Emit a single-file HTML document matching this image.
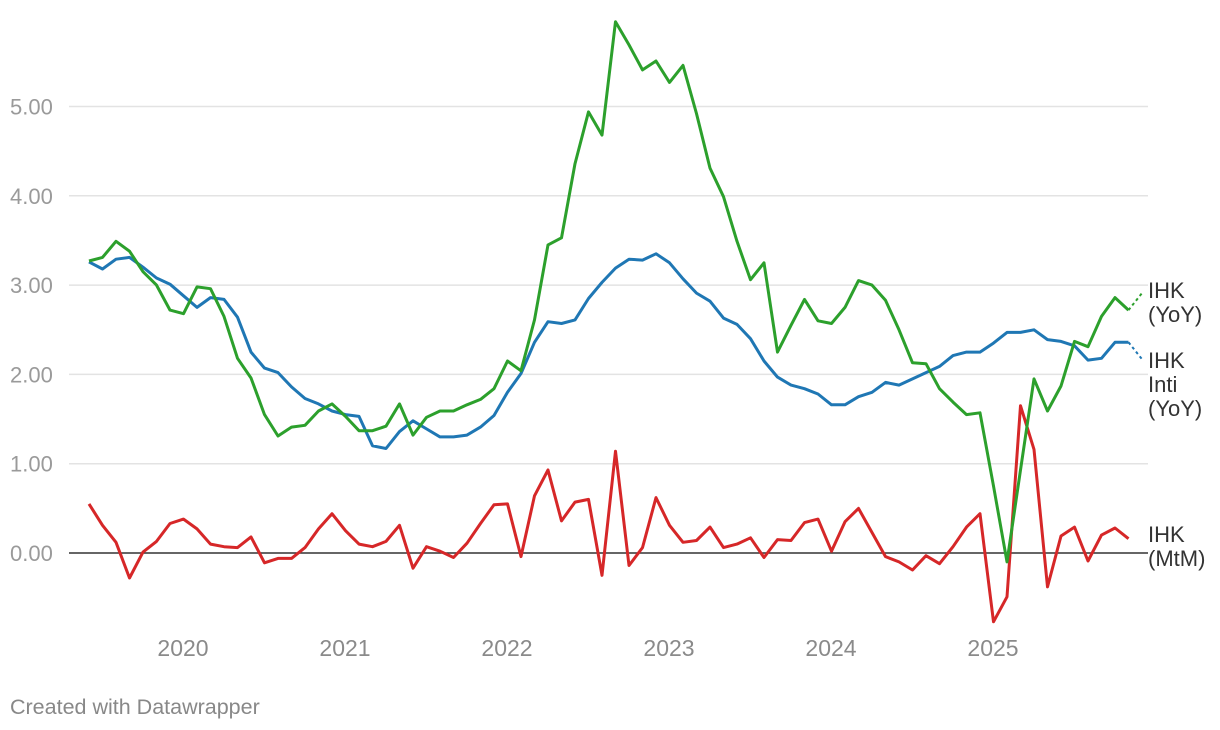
<!DOCTYPE html>
<html><head><meta charset="utf-8"><style>
body{margin:0;background:#fff;font-family:"Liberation Sans",Arial,sans-serif}
svg{display:block}
</style></head><body>
<svg id="chart" width="1220" height="730" viewBox="0 0 1220 730" xmlns="http://www.w3.org/2000/svg">
<g id="grid"></g>
<g id="yticks"></g>
<g id="xticks"></g>
<g id="series"></g>
<g id="labels"></g>
<text x="10" y="714" font-size="21.5" fill="#888">Created with Datawrapper</text>
</svg>
<script>
// months from Jun 2019 (index 0) to Nov 2025 (index 77); index 78 = dotted projection Dec 2025
const yTicks=[0,1,2,3,4,5];
const yTickLabels=["0.00","1.00","2.00","3.00","4.00","5.00"];
const yearLabels=["2020","2021","2022","2023","2024","2025"];
const yearIndex=[7,19,31,43,55,67];
const ihkYoY=[3.27,3.31,3.49,3.38,3.15,3.0,2.72,2.68,2.98,2.96,2.65,2.18,1.96,1.55,1.31,1.41,1.43,1.59,1.67,1.53,1.37,1.37,1.42,1.67,1.32,1.52,1.59,1.59,1.66,1.72,1.84,2.15,2.04,2.61,3.45,3.53,4.36,4.94,4.68,5.95,5.69,5.41,5.51,5.27,5.46,4.92,4.31,3.99,3.49,3.06,3.25,2.25,2.55,2.84,2.6,2.57,2.75,3.05,3.0,2.83,2.5,2.13,2.12,1.84,1.69,1.55,1.57,0.75,-0.1,0.93,1.95,1.59,1.87,2.37,2.31,2.65,2.86,2.72];
const ihkYoYNext=2.91;
const intiYoY=[3.26,3.18,3.29,3.31,3.2,3.08,3.01,2.88,2.75,2.86,2.84,2.64,2.25,2.07,2.02,1.86,1.73,1.67,1.59,1.55,1.53,1.2,1.17,1.36,1.48,1.39,1.3,1.3,1.32,1.41,1.54,1.8,2.01,2.36,2.59,2.57,2.61,2.85,3.03,3.19,3.29,3.28,3.35,3.25,3.07,2.91,2.82,2.63,2.56,2.4,2.15,1.97,1.88,1.84,1.78,1.66,1.66,1.75,1.8,1.91,1.88,1.95,2.02,2.09,2.21,2.25,2.25,2.35,2.47,2.47,2.5,2.39,2.37,2.32,2.16,2.18,2.36,2.36];
const intiYoYNext=2.17;
const ihkMtM=[0.55,0.31,0.12,-0.28,0.01,0.13,0.33,0.38,0.27,0.1,0.07,0.06,0.18,-0.11,-0.06,-0.06,0.06,0.27,0.44,0.25,0.1,0.07,0.13,0.31,-0.17,0.07,0.02,-0.05,0.11,0.33,0.54,0.55,-0.04,0.64,0.93,0.36,0.57,0.6,-0.25,1.14,-0.14,0.06,0.62,0.31,0.12,0.14,0.29,0.06,0.1,0.17,-0.05,0.15,0.14,0.34,0.38,0.02,0.35,0.5,0.23,-0.04,-0.1,-0.19,-0.03,-0.12,0.07,0.29,0.44,-0.77,-0.49,1.65,1.16,-0.38,0.19,0.29,-0.09,0.2,0.28,0.16];

const NS="http://www.w3.org/2000/svg";
const X=i=>89+13.5*i;
const Y=v=>553-89.3*v;
function mk(tag,attrs,parent){const e=document.createElementNS(NS,tag);for(const k in attrs)e.setAttribute(k,attrs[k]);parent.appendChild(e);return e;}
const grid=document.getElementById('grid'),yt=document.getElementById('yticks'),xt=document.getElementById('xticks'),ser=document.getElementById('series'),lab=document.getElementById('labels');
yTicks.forEach((v,k)=>{
  const l=mk('line',{x1:69,x2:1148,y1:Y(v),y2:Y(v),stroke:v===0?'#333':'#e3e3e3','stroke-width':1.5},grid);
  
  
  const t=mk('text',{x:10,y:Y(v)+8,'font-size':22,fill:'#9a9a9a'},yt);
  t.textContent=yTickLabels[k];
  
  
});
yearLabels.forEach((s,k)=>{
  const t=mk('text',{x:X(yearIndex[k])-0.5,y:656,'font-size':23,fill:'#8a8a8a','text-anchor':'middle'},xt);
  t.textContent=s;
  
  
});
function line(data,next,color,name){
  const d=data.map((v,i)=>(i?'L':'M')+X(i).toFixed(1)+' '+Y(v).toFixed(1)).join(' ');
  const p=mk('path',{d:d,fill:'none',stroke:color,'stroke-width':3,'stroke-linejoin':'round'},ser);
  
  
  if(next!==null){
    const n=data.length-1;
    const q=mk('line',{x1:X(n),y1:Y(data[n]),x2:X(n+1),y2:Y(next),stroke:color,'stroke-width':2,'stroke-dasharray':'3 3'},ser);
    
    
  }
}
line(ihkMtM,null,'#d62728','ihk-mtm-line');
line(intiYoY,intiYoYNext,'#1f77b4','ihk-inti-yoy-line');
line(ihkYoY,ihkYoYNext,'#2ca02c','ihk-yoy-line');
function label(lines,y0,name){
  const t=mk('text',{x:1148,y:y0,'font-size':22,fill:'#333'},lab);
  
  
  lines.forEach((s,k)=>{const ts=mk('tspan',{x:1148,dy:k?24:0},t);ts.textContent=s;});
}
label(["IHK","(YoY)"],298,'label-ihk-yoy');
label(["IHK","Inti","(YoY)"],368,'label-ihk-inti-yoy');
label(["IHK","(MtM)"],542,'label-ihk-mtm');
</script>
</body></html>
